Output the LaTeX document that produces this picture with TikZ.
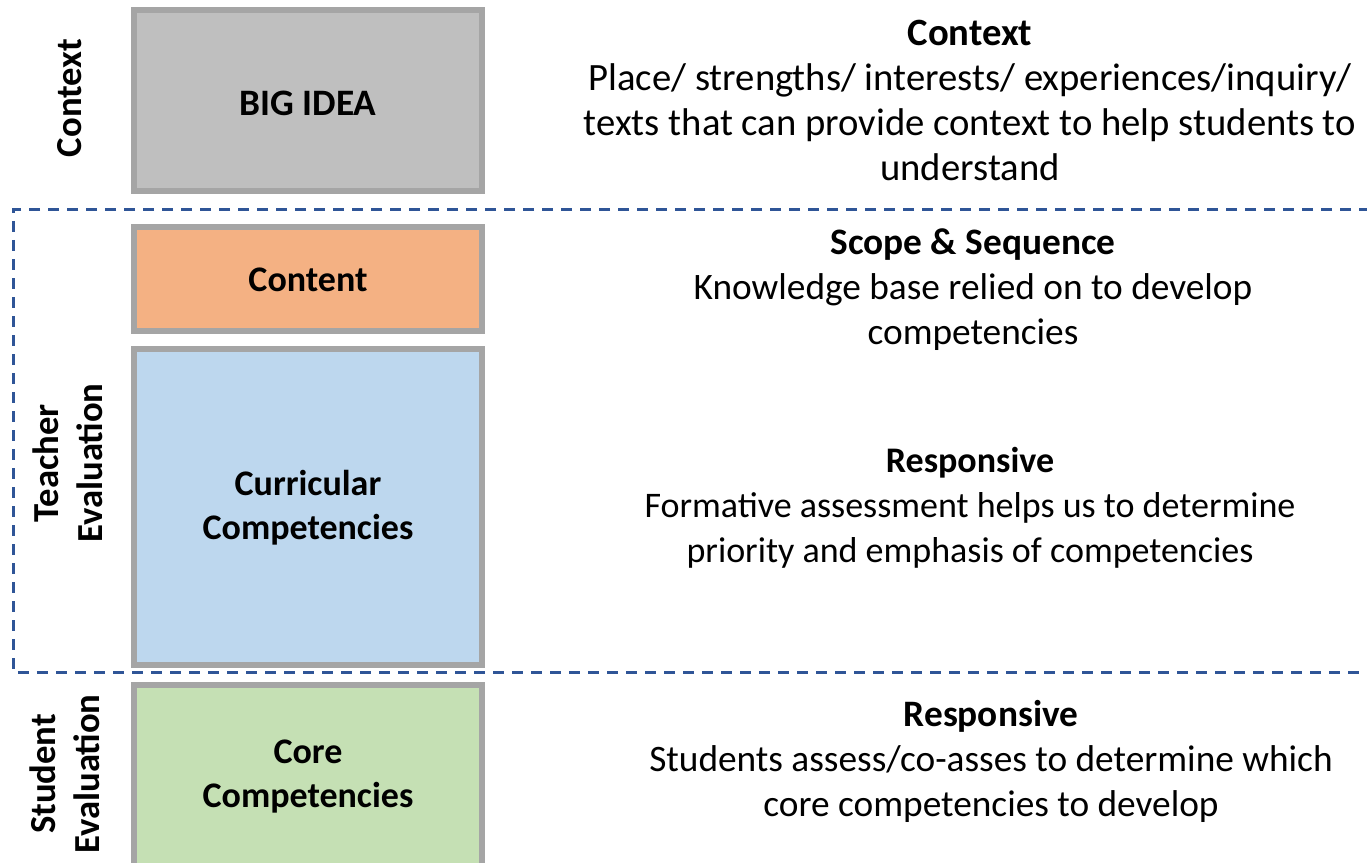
\documentclass[tikz,border=0pt]{standalone}
\usepackage{fontspec}
\setmainfont{Carlito}
\usetikzlibrary{calc}
\definecolor{ideagray}{HTML}{BFBFBF}
\definecolor{framegray}{HTML}{A5A5A5}
\definecolor{contentorange}{HTML}{F4B183}
\definecolor{curricblue}{HTML}{BDD7EE}
\definecolor{coregreen}{HTML}{C5E0B4}
\definecolor{evalblue}{HTML}{2F5597}
\tikzset{
	box/.style={line width=4.5pt, draw=framegray},
	boxtext/.style={font=\fontsize{27}{33}\selectfont\bfseries, align=center},
	sidetext/.style={font=\fontsize{27.5}{33}\selectfont\bfseries, align=center, rotate=90},
	notetext/.style={font=\fontsize{#1}{33.75}\selectfont, align=center},
	notetext/.default=27,
	evalline/.style={line width=2.25pt, color=evalblue, dash pattern=on 8.25pt off 6pt}
}

\begin{document}
\begin{tikzpicture}[x=0.75pt, y=-0.75pt]
		%%%%% START %%%%%
		\useasboundingbox (0, 0) rectangle (1367, 863);
		\clip (0, 0) rectangle (1367, 863);
		
		\draw[box, fill=ideagray] (134, 10) rectangle (482, 191);
		\node[boxtext, font=\fontsize{28}{33}\selectfont\bfseries] (bigidea) at (308, 103) {BIG IDEA};
		
		\draw[box, fill=contentorange] (134, 227) rectangle (482, 331);
		\node[boxtext] (content) at (308, 280) {Content};
		
		\draw[box, fill=curricblue] (134, 349) rectangle (482, 665);
		\node[boxtext] (curric) at (308, 508) {Curricular\\Competencies};
		
		\draw[box, fill=coregreen] (134, 685) rectangle (482, 880);
		\node[boxtext] (core) at (308, 777) {Core\\Competencies};
		
		\draw[evalline] (1370, 210) -- (13, 210) -- (13, 672) -- (1370, 672);
		
		\node[sidetext] (ctxside) at (70, 98) {Context};
		\node[sidetext] (teacher) at (68, 463) {Teacher\\Evaluation};
		\node[sidetext] (student) at (65, 774) {Student\\Evaluation};
		
		\node[notetext=29] (ctxnote) at (970, 100) {\textbf{Context}\\Place/ strengths/ interests/ experiences/inquiry/\\texts that can provide context to help students to\\understand};
		\node[notetext=28] (scopenote) at (973, 290) {\textbf{Scope \& Sequence}\\Knowledge base relied on to develop\\competencies};
		\node[notetext] (respnote) at (970, 508) {\textbf{Responsive}\\Formative assessment helps us to determine\\priority and emphasis of competencies};
		\node[notetext=28] (studnote) at (991, 761) {\textbf{Responsive}\\Students assess/co-asses to determine which\\core competencies to develop};
		%%%%% END %%%%%
	\end{tikzpicture}
\end{document}
